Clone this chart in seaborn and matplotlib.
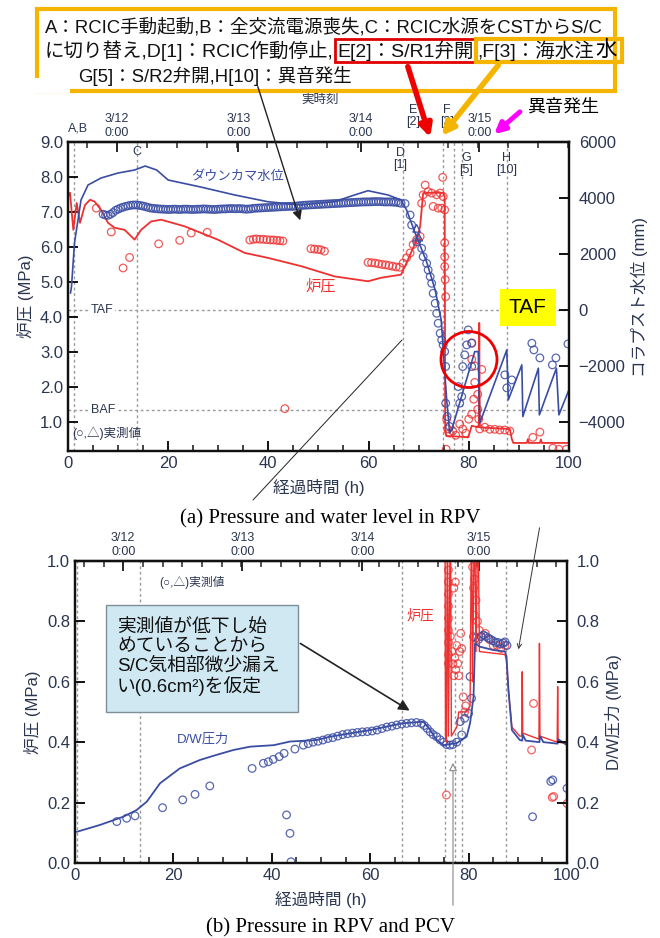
import matplotlib
matplotlib.use('Agg')
import matplotlib.pyplot as plt
import seaborn as sns
from matplotlib.patches import Rectangle, Circle
from matplotlib.ticker import FixedLocator, MultipleLocator, FormatStrFormatter

sns.set_theme(style='ticks')
plt.rcParams['font.family'] = ['Liberation Sans', 'Noto Sans CJK JP']

BLUE = '#3a4da3'
RED = '#ee3030'
GRAY = '#9a9a9a'
TXT = '#2a3550'

# ---------------- (a) data ----------------
# simulated downcomer level (mm, right axis)
dc_h = [0.5, 0.7, 1.3, 2.6, 4.0, 6.6, 10.0, 13.3, 15.4, 17.7, 20.0, 26.5, 33.3, 39.9, 46.5,
        53.2, 57.2, 59.9, 63.9, 66.5, 67.6, 69.3, 71.6, 73.3, 74.5, 75.6, 76.2, 76.6, 81.2,
        81.9, 82.2, 87.6, 87.9, 90.6, 90.8, 93.9, 94.1, 97.5, 98.0, 100.0]
dc_mm = [600, 832, 2393, 3928, 4464, 4714, 4892, 5000, 5142, 5000, 4642, 4392, 4107, 3867, 3750,
         3867, 4107, 4260, 4107, 3928, 3571, 2750, 1714, 714, -357, -3214, -4392, -4285, -1488,
         -1488, -4047, -1428, -3214, -1964, -3809, -2083, -3750, -2083, -3750, -2857]

# simulated reactor pressure (MPa, left axis)
rp_h = [0.0, 0.4, 1.06, 1.74, 2.4, 3.4, 4.4, 5.3, 6.6, 8.0, 9.3, 11.3, 13.3, 14.6, 16.6, 18.6,
        23.3, 29.9, 35.3, 39.9, 46.6, 53.2, 59.9, 62.5, 66.5, 67.6, 69.6, 70.3, 70.6, 70.9,
        72.3, 74.9, 75.2, 75.3, 75.5, 77.2, 79.9, 80.6, 81.8, 82.0, 82.1, 82.2, 82.6, 88.2,
        88.6, 88.9, 91.6, 91.8, 92.0, 94.2, 94.4, 94.6, 100.0]
rp_mpa = [7.44, 7.55, 6.49, 7.26, 6.69, 7.2, 7.35, 7.3, 7.06, 6.69, 6.55, 6.49, 6.21, 6.49, 6.73,
          6.78, 6.59, 6.21, 5.83, 5.69, 5.45, 5.16, 5.02, 5.12, 5.21, 5.55, 6.2, 6.59, 7.06, 7.54,
          7.55, 7.55, 7.44, 0.71, 0.6, 0.59, 0.56, 0.89, 0.85, 0.85, 3.83, 0.85, 0.84, 0.8,
          0.51, 0.40, 0.40, 0.51, 0.40, 0.40, 0.50, 0.40, 0.40]

# measured water level (mm): dense band, then the fall and the late scatter
wl_obs_h = [7.0, 7.5, 8.0, 8.5, 9.0, 9.5, 10.0, 10.5, 11.0, 11.5, 12.0, 12.5, 13.0, 13.5, 14.0,
            14.5, 15.0, 15.5, 16.0, 16.5,
            17.0, 17.5, 18.0, 18.5, 19.0, 19.5, 20.0, 20.5, 21.0, 21.5, 22.0, 22.5, 23.0, 23.5,
            24.0, 24.5, 25.0, 25.5, 26.0, 26.5,
            27.0, 27.5, 28.0, 28.5, 29.0, 29.5, 30.0, 30.5, 31.0, 31.5, 32.0, 32.5, 33.0, 33.5,
            34.0, 34.5, 35.0, 35.5, 36.0, 36.5,
            37.0, 37.5, 38.0, 38.5, 39.0, 39.5, 40.0, 40.5, 41.0, 41.5, 42.0, 42.5, 43.0, 43.5,
            44.0, 44.5, 45.0, 45.5, 46.0, 46.5,
            47.0, 47.5, 48.0, 48.5, 49.0, 49.5, 50.0, 50.5, 51.0, 51.5, 52.0, 52.5, 53.0, 53.5,
            54.0, 54.5, 55.0, 55.5, 56.0, 56.5,
            57.0, 57.5, 58.0, 58.5, 59.0, 59.5, 60.0, 60.5, 61.0, 61.5, 62.0, 62.5, 63.0, 63.5,
            64.0, 64.5, 65.0, 65.5, 66.0, 66.5,
            67.3, 68.3, 68.6, 69.6, 70.6, 70.9, 71.6, 71.9, 72.3, 72.6, 72.9, 73.3, 73.6, 73.9,
            74.3, 74.6, 74.9, 75.2, 75.4, 75.4, 75.7, 76.2,
            77.9, 78.2, 78.6, 78.8, 79.2, 79.6, 79.9, 80.6, 80.6,
            87.2, 87.6, 88.6, 92.6, 93.0, 94.2, 96.7, 97.4, 99.8]
wl_obs_mm = [3420, 3390, 3380, 3420, 3480, 3560, 3600, 3640, 3670, 3700, 3720, 3740, 3750, 3750,
             3740, 3730, 3710, 3690, 3660, 3640,
             3630, 3620, 3610, 3605, 3600, 3595, 3590, 3590, 3600, 3600, 3590, 3590, 3600, 3600,
             3600, 3590, 3590, 3595, 3600, 3600,
             3610, 3605, 3600, 3595, 3590, 3590, 3600, 3605, 3610, 3610, 3620, 3620, 3620, 3615,
             3620, 3620, 3610, 3600, 3605, 3610,
             3630, 3635, 3640, 3645, 3650, 3655, 3660, 3665, 3670, 3675, 3680, 3685, 3690, 3695,
             3700, 3700, 3700, 3710, 3720, 3730,
             3740, 3745, 3750, 3755, 3760, 3765, 3770, 3775, 3780, 3785, 3790, 3795, 3800, 3805,
             3810, 3815, 3820, 3825, 3830, 3835,
             3840, 3845, 3850, 3855, 3860, 3860, 3860, 3865, 3870, 3870, 3870, 3870, 3860, 3860,
             3860, 3860, 3850, 3850, 3830, 3810,
             3800, 3392, 3035, 2440, 2202, 1904, 1666, 1428, 1190, 952, 595, 238, -119, -476,
             -833, -1071, -1250, -1488, -2023, -3333, -3809, -4166,
             -2738, -3333, -3095, -2023, -1607, -1250, -714, -1190, -2023,
             -2321, -2785, -2500, -1190, -1428, -1714, -1964, -1714, -1214]
wl_tri_h = [69.6, 70.0]
wl_tri_mm = [2916, 2600]

# measured reactor pressure (MPa)
rp_obs_h = [5.65, 8.64, 11.0, 12.3, 18.1, 22.3, 24.6, 27.8,
            36.3, 37.0, 37.6, 38.3, 39.0, 39.7, 40.4, 41.0, 41.7, 42.3, 42.9,
            48.5, 49.2, 49.9, 50.5, 51.2,
            59.9, 60.6, 61.3, 62.0, 62.7, 63.4, 64.1, 64.8, 65.5, 66.2,
            66.9, 67.6, 68.3, 68.9, 69.6, 70.3, 70.6, 70.9, 71.3, 71.9, 72.6, 72.9, 73.6, 73.9,
            74.3, 74.6, 74.9, 74.8, 75.2, 75.2, 75.2, 75.2, 75.3, 75.4,
            75.6, 75.8, 76.2, 76.8, 77.4, 78.2, 78.8, 79.4, 80.0,
            80.6, 80.6, 81.2, 82.6, 81.2, 81.8, 81.8, 82.0, 82.2, 81.0, 80.6,
            83.2, 84.2, 85.2, 86.2, 87.2, 88.2, 94.2, 92.8, 96.8, 99.5, 98.0, 75.5, 43.3]
rp_obs_mpa = [7.11, 6.43, 5.40, 5.70, 6.09, 6.19, 6.40, 6.42,
              6.20, 6.22, 6.23, 6.22, 6.22, 6.21, 6.20, 6.20, 6.19, 6.18, 6.17,
              5.95, 5.94, 5.93, 5.92, 5.88,
              5.56, 5.55, 5.54, 5.52, 5.50, 5.49, 5.47, 5.45, 5.43, 5.42,
              5.54, 5.69, 5.83, 6.07, 6.21, 6.30, 7.25, 7.49, 7.77, 7.58, 7.54, 7.16, 7.49, 7.11,
              7.54, 7.11, 7.44, 7.99, 7.06, 6.12, 5.72, 5.44, 5.07, 4.58,
              1.08, 0.80, 0.68, 0.74, 0.62, 0.94, 0.80, 0.68, 1.08,
              3.26, 2.79, 2.60, 2.50, 2.13, 1.79, 1.36, 1.08, 0.80, 1.65, 1.22,
              0.85, 0.79, 0.79, 0.77, 0.77, 0.74, 0.71, 0.56, 0.25, 0.22, 0.22, 0.22, 1.38]

events_a_h = [1.2, 13.7, 66.8, 74.9, 77.1, 78.6, 87.6]
taf_mpa, baf_mpa = 4.2, 1.34
date_h = [9.8, 34.0, 58.4, 82.1]
date_labels = ['3/12\n0:00', '3/13\n0:00', '3/14\n0:00', '3/15\n0:00']

# ---------------- (b) data ----------------
dw_h = [0.35, 5.1, 9.8, 12.5, 14.6, 17.3, 21.3, 25.4, 28.8, 32.2, 35.6, 40.4, 43.7, 49.1, 51.8,
        60.0, 66.4, 70.8, 72.2, 73.5, 74.9, 77.6, 79.6, 80.3, 81.0, 81.3, 82.3, 85.0, 87.4,
        87.7, 88.1, 88.8, 90.4, 90.9, 91.0, 91.6, 94.4, 94.5, 95.2, 98.1, 98.2, 100.0]
dw_mpa = [0.103, 0.126, 0.153, 0.175, 0.203, 0.264, 0.313, 0.341, 0.358, 0.374, 0.385, 0.390,
          0.402, 0.407, 0.418, 0.44, 0.462, 0.468, 0.44, 0.407, 0.39, 0.397, 0.418, 0.463, 0.55,
          0.727, 0.716, 0.705, 0.70, 0.683, 0.573, 0.44, 0.407, 0.405, 0.425, 0.405, 0.40, 0.42,
          0.40, 0.395, 0.41, 0.39]

rp2_h = [75.2, 75.3, 75.5, 75.7, 75.9, 76.3, 76.5, 77.6, 78.0, 79.6, 80.3, 80.6, 80.8, 81.2,
         81.5, 81.9, 82.2, 87.4, 87.7, 88.1, 88.8, 90.4, 90.8, 90.9, 91.0, 94.3, 94.4, 94.5,
         98.0, 98.1, 98.2, 100.0]
rp2_mpa = [1.2, 0.42, 0.40, 1.2, 0.42, 1.2, 0.42, 0.45, 0.50, 0.50, 0.52, 1.2, 0.60, 1.2,
           0.70, 1.2, 0.70, 0.69, 0.67, 0.57, 0.45, 0.42, 0.42, 0.633, 0.43, 0.41, 0.727, 0.42,
           0.40, 0.584, 0.40, 0.395]

rp2_obs_h = [75.9, 75.9, 75.9, 75.9, 75.9, 75.9, 75.9, 75.9, 75.9,
             76.3, 76.6, 76.8, 77.0, 77.2, 77.4, 77.6, 77.8, 78.0, 78.2, 78.4, 77.3, 77.0, 78.6,
             78.9, 79.2, 79.4,
             80.8, 81.2, 81.0, 81.5, 81.2, 81.8, 82.2,
             82.6, 83.4, 84.2, 85.0, 85.8, 86.6, 87.4,
             75.5, 93.2, 92.8, 97.0, 100.0, 97.3]
rp2_obs_mpa = [0.97, 0.93, 0.89, 0.85, 0.81, 0.77, 0.73, 0.69, 0.66,
               0.75, 0.70, 0.66, 0.62, 0.68, 0.64, 0.72, 0.66, 0.62, 0.70, 0.76, 0.93, 0.91, 0.71,
               0.55, 0.50, 0.52,
               0.98, 0.94, 0.91, 0.87, 0.82, 0.80, 0.77,
               0.75, 0.76, 0.74, 0.72, 0.72, 0.71, 0.72,
               0.225, 0.528, 0.374, 0.217, 0.197, 0.22]

dw_obs_h = [8.5, 10.5, 12.2, 17.8, 21.9, 24.4, 27.4, 36.0, 38.3, 39.3, 40.3, 41.5, 42.5, 44.7,
            43.0, 43.7, 43.9,
            46.4, 47.4, 48.4, 49.4, 50.4, 51.4, 52.4, 53.4, 54.4, 55.4, 56.4, 57.4, 58.4, 59.4,
            60.4, 61.4, 62.4, 63.4, 64.4, 65.4, 66.4, 67.4, 68.4, 69.4, 70.4, 71.0, 71.6, 72.2,
            72.8, 73.5, 74.2, 74.9, 75.5, 76.2, 76.8, 77.6, 78.3, 78.6, 79.2, 80.0, 80.3, 80.6,
            81.0, 81.5, 82.0, 82.5, 83.0, 83.5, 84.0, 84.5, 85.0, 85.5, 86.0, 86.5, 87.0, 87.4,
            87.8, 97.1, 96.7, 93.0, 100.0]
dw_obs_mpa = [0.137, 0.148, 0.156, 0.183, 0.209, 0.227, 0.255, 0.313, 0.33, 0.335, 0.343, 0.352,
              0.363, 0.377, 0.159, 0.098, 0.004,
              0.39, 0.395, 0.40, 0.403, 0.407, 0.412, 0.415, 0.42, 0.425, 0.428, 0.43, 0.432,
              0.434, 0.435, 0.437, 0.44, 0.445, 0.45, 0.453, 0.457, 0.46, 0.462, 0.464, 0.465,
              0.462, 0.455, 0.445, 0.434, 0.425, 0.418, 0.408, 0.40, 0.392, 0.39, 0.392, 0.40,
              0.468, 0.424, 0.479, 0.495, 0.617, 0.545, 0.749, 0.745, 0.74, 0.75, 0.755, 0.75,
              0.745, 0.74, 0.735, 0.73, 0.73, 0.725, 0.728, 0.732, 0.72, 0.275, 0.27, 0.153,
              0.247]

events_b_h = [0.35, 13.2, 66.4, 75.2, 77.2, 78.6, 87.7]

box_line1 = 'A：RCIC手動起動,B：全交流電源喪失,C：RCIC水源をCSTからS/C'
box_line2 = ['に切り替え,D[1]：RCIC作動停止,', 'E[2]：S/R1弁開', ',F[3]：海水注', '水']
box_line3 = 'G[5]：S/R2弁開,H[10]：異音発生'
note_text = '実測値が低下し始\nめていることから\nS/C気相部微少漏え\nい(0.6cm²)を仮定'


def style_axes(ax, axr):
    for a in (ax, axr):
        for sp in a.spines.values():
            sp.set_linewidth(1.6)
            sp.set_color('#111111')
        a.tick_params(direction='in', which='major', length=7, width=1.4,
                      labelsize=12, labelcolor=TXT, color='#111111')
        a.tick_params(direction='in', which='minor', length=4, width=1.1, color='#111111')
    axr.tick_params(axis='y', pad=7)
    ax.set_xlim(0, 100)
    ax.xaxis.set_major_locator(MultipleLocator(20))
    ax.xaxis.set_minor_locator(MultipleLocator(5))
    ax.set_xlabel('経過時間 (h)', fontsize=12, color=TXT, labelpad=6)


def date_axis(ax, step):
    top = ax.secondary_xaxis('top')
    top.set_xticks(date_h, date_labels)
    top.xaxis.set_minor_locator(FixedLocator([date_h[0] + step * k for k in range(-2, 25)]))
    top.tick_params(direction='in', which='major', length=7, width=1.4, labelsize=9,
                    labelcolor=TXT, pad=2)
    top.tick_params(direction='in', which='minor', length=4, width=1.1)
    top.spines['top'].set_linewidth(1.6)
    return top


fig = plt.figure(figsize=(6.6, 9.38), dpi=100)

# ---------------- panel (a) ----------------
ax = fig.add_axes([0.103, 0.5192, 0.759, 0.3294])
axr = ax.twinx()
for h in events_a_h:
    ax.axvline(h, color=GRAY, ls=(0, (2, 2)), lw=1.0, zorder=0)
for lv in (taf_mpa, baf_mpa):
    ax.axhline(lv, color=GRAY, ls=(0, (2, 2)), lw=1.0, zorder=0)

sns.lineplot(x=rp_h, y=rp_mpa, ax=ax, color=RED, lw=1.3, sort=False, estimator=None)
sns.scatterplot(x=rp_obs_h, y=rp_obs_mpa, ax=ax, marker='o', s=30, facecolor='none',
                edgecolor=RED, linewidth=0.9, alpha=0.8)
sns.lineplot(x=dc_h, y=dc_mm, ax=axr, color=BLUE, lw=1.2, sort=False, estimator=None)
sns.scatterplot(x=wl_obs_h, y=wl_obs_mm, ax=axr, marker='o', s=30, facecolor='none',
                edgecolor=BLUE, linewidth=0.9, alpha=0.85)
sns.scatterplot(x=wl_tri_h, y=wl_tri_mm, ax=axr, marker='^', s=30, facecolor='none',
                edgecolor=BLUE, linewidth=0.9)

ax.set_ylim(0.17, 9.0)
ax.yaxis.set_major_locator(FixedLocator([1, 2, 3, 4, 5, 6, 7, 8, 9]))
ax.yaxis.set_major_formatter(FormatStrFormatter('%.1f'))
axr.set_ylim(-5040, 6000)
axr.set_yticks([-4000, -2000, 0, 2000, 4000, 6000])
ax.set_ylabel('炉圧 (MPa)', fontsize=12, color=TXT)
axr.set_ylabel('コラプスト水位 (mm)', fontsize=12, color=TXT, rotation=90, labelpad=4)
style_axes(ax, axr)
date_axis(ax, 6)

xt = ax.get_xaxis_transform()
for lab, h, yf in [('A,B', 2.0, 1.045), ('C', 13.8, 0.968), ('D\n[1]', 66.3, 0.945),
                   ('E\n[2]', 68.9, 1.085), ('F\n[3]', 75.7, 1.085), ('G\n[5]', 79.4, 0.93),
                   ('H\n[10]', 87.6, 0.93)]:
    ax.text(h, yf, lab, transform=xt, ha='center', va='center', fontsize=9, color=TXT,
            linespacing=1.0)
ax.text(4.5, taf_mpa, 'TAF', fontsize=9, color=TXT, va='center', ha='left',
        bbox=dict(fc='white', ec='none', pad=1))
ax.text(4.5, baf_mpa, 'BAF', fontsize=9, color=TXT, va='center', ha='left',
        bbox=dict(fc='white', ec='none', pad=1))
ax.text(33.9, 8.0, 'ダウンカマ水位', fontsize=9.5, color=BLUE, ha='center', va='center')
ax.text(50.5, 4.87, '炉圧', fontsize=11, color=RED, ha='center', va='center')
ax.text(0.8, 0.68, '(○,△)実測値', fontsize=9, color=TXT, ha='left', va='center')
ax.text(91.8, 4.27, 'TAF', fontsize=15, color='black', ha='center', va='center', zorder=5,
        bbox=dict(fc='#ffff00', ec='none', boxstyle='square,pad=0.45'))

# ---------------- panel (b) ----------------
bx = fig.add_axes([0.1136, 0.080, 0.7455, 0.322])
bxr = bx.twinx()
for h in events_b_h:
    bx.axvline(h, color=GRAY, ls=(0, (2, 2)), lw=1.0, zorder=0)
sns.lineplot(x=rp2_h, y=rp2_mpa, ax=bx, color=RED, lw=1.0, sort=False, estimator=None)
sns.lineplot(x=dw_h, y=dw_mpa, ax=bx, color=BLUE, lw=1.3, sort=False, estimator=None)
sns.scatterplot(x=rp2_obs_h, y=rp2_obs_mpa, ax=bx, marker='o', s=30, facecolor='none',
                edgecolor=RED, linewidth=0.9, alpha=0.75)
sns.scatterplot(x=dw_obs_h, y=dw_obs_mpa, ax=bx, marker='o', s=30, facecolor='none',
                edgecolor=BLUE, linewidth=0.9, alpha=0.85)
bx.set_ylim(0, 1.0)
bxr.set_ylim(0, 1.0)
for a in (bx, bxr):
    a.yaxis.set_major_locator(MultipleLocator(0.2))
    a.yaxis.set_major_formatter(FormatStrFormatter('%.1f'))
bx.set_ylabel('炉圧 (MPa)', fontsize=12, color=TXT)
bxr.set_ylabel('D/W圧力 (MPa)', fontsize=12, color=TXT, rotation=90, labelpad=4)
style_axes(bx, bxr)
date_axis(bx, 4)
bx.text(23.8, 0.927, '(○,△)実測値', fontsize=8.5, color=TXT, ha='center', va='center')
bx.text(70.1, 0.82, '炉圧', fontsize=10, color=RED, ha='center', va='center')
bx.text(26.0, 0.41, 'D/W圧力', fontsize=9.5, color=BLUE, ha='center', va='center')

# ---------------- overlay (pixel coordinates) ----------------
ov = fig.add_axes([0, 0, 1, 1], zorder=10)
ov.set_xlim(0, 660)
ov.set_ylim(938, 0)
ov.axis('off')
rend = fig.canvas.get_renderer()
inv = ov.transData.inverted()


def right_edge(t):
    bb = t.get_window_extent(renderer=rend)
    return inv.transform((bb.x1, bb.y0))[0]


FS = 13.3
FS2 = 14.0
ov.add_patch(Rectangle((37, 9), 578, 82, fc='white', ec='#f5b400', lw=3))
ov.add_patch(Rectangle((34, 78), 36, 15, fc='white', ec='none'))
ov.text(45, 27, box_line1, fontsize=FS, ha='left', va='center', color='#111111')
ov.text(78, 76, box_line3, fontsize=FS, ha='left', va='center', color='#111111')
t1 = ov.text(45, 51, box_line2[0], fontsize=FS2, ha='left', va='center', color='#111111')
e1 = right_edge(t1)
t2 = ov.text(e1 + 4, 51, box_line2[1], fontsize=FS2, ha='left', va='center', color='#111111')
e2 = right_edge(t2)
t3 = ov.text(e2 + 3, 51, box_line2[2], fontsize=FS2, ha='left', va='center', color='#111111')
e3 = right_edge(t3)
t4 = ov.text(e3 + 1, 50, box_line2[3], fontsize=15.5, ha='left', va='center', color='black')
e4 = right_edge(t4)
ov.add_patch(Rectangle((e1 + 1, 39), e2 + 2 - e1 - 1, 23, fill=False, ec='#e00000', lw=2))
ov.add_patch(Rectangle((e2 + 2, 39), e4 + 5 - e2 - 2, 23, fill=False, ec='#f5b400', lw=3))

ov.annotate('', xy=(431, 140), xytext=(407, 64),
            arrowprops=dict(arrowstyle='-|>', color='#ee0000', lw=4, mutation_scale=18))
ov.annotate('', xy=(440, 138), xytext=(500, 63),
            arrowprops=dict(arrowstyle='-|>', color='#f5b400', lw=4, mutation_scale=18))
ov.annotate('', xy=(492, 136), xytext=(522, 110),
            arrowprops=dict(arrowstyle='-|>', color='#ff00ff', lw=3.5, mutation_scale=16))
ov.text(527, 107, '異音発生', fontsize=13, ha='left', va='center', color='black')
ov.text(320, 100, '実時刻', fontsize=9, ha='center', va='center', color=TXT)
ov.annotate('', xy=(301, 223), xytext=(257, 84),
            arrowprops=dict(arrowstyle='-|>', color='#222222', lw=1.0, mutation_scale=14))
ov.plot([253, 402], [500, 340], color='#222222', lw=0.7)
ov.add_patch(Circle((469, 359.5), 28, fill=False, ec='#ee0000', lw=2))
ov.text(330, 519, '(a) Pressure and water level in RPV', family='Liberation Serif',
        fontsize=15, ha='center', va='center', color='black')

ov.add_patch(Rectangle((106, 605), 192, 107, fc='#cfe8f2', ec='#7f8f99', lw=1))
ov.text(117, 658, note_text, fontsize=13.5, ha='left', va='center', color='#111111',
        linespacing=1.12)
ov.annotate('', xy=(412, 712), xytext=(298, 642),
            arrowprops=dict(arrowstyle='-|>', color='#222222', lw=1.2, mutation_scale=16))
ov.annotate('', xy=(518, 652), xytext=(540, 525),
            arrowprops=dict(arrowstyle='->', color='#333333', lw=0.7, mutation_scale=8))
ov.annotate('', xy=(453, 760), xytext=(453, 908),
            arrowprops=dict(arrowstyle='-|>', fc='white', ec='#888888', lw=0.8,
                            mutation_scale=12))
ov.text(330, 928, '(b) Pressure in RPV and PCV', family='Liberation Serif',
        fontsize=15, ha='center', va='center', color='black')

fig.savefig('out.png', dpi=100)
